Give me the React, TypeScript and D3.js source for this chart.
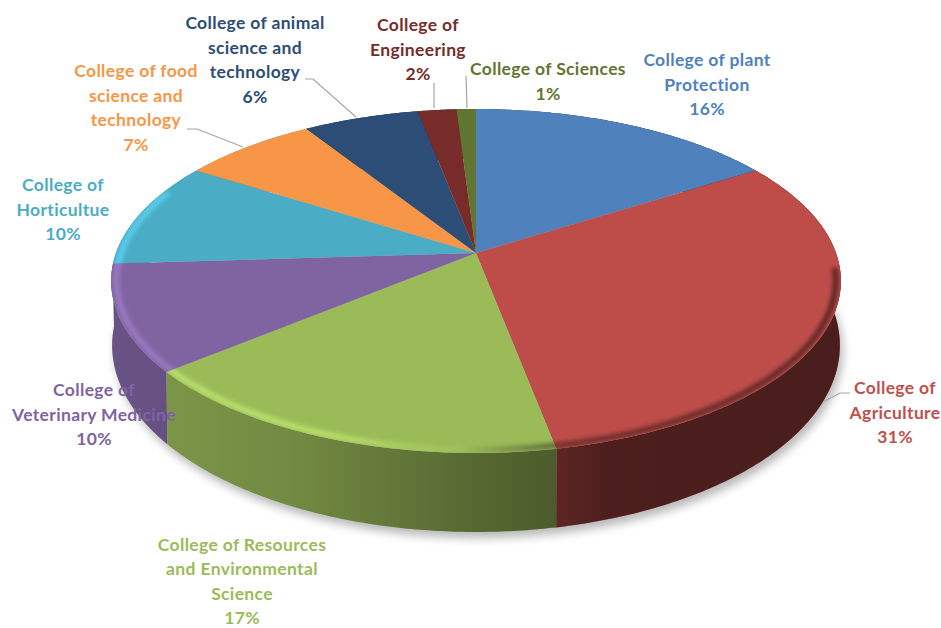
import React from "react";
import * as d3 from "d3";

// Share of each college, in percent, clockwise from twelve o'clock.
const colleges = [
  "College of plant Protection",
  "College of Agriculture",
  "College of Resources and Environmental Science",
  "College of Veterinary Medicine",
  "College of Horticultue",
  "College of food science and technology",
  "College of animal science and technology",
  "College of Engineering",
  "College of Sciences",
];
const shares = [16, 31, 17, 10, 10, 7, 6, 2, 1];
const sliceColors = ["#4F81BD", "#BE4D4A", "#9BBB59", "#8064A2", "#4BACC6", "#F79646", "#2C4D75", "#772C2A", "#5F7530"];
const labelColors = ["#4F81BD", "#C0504D", "#9BBB59", "#8064A2", "#4BACC6", "#F79646", "#2C4D75", "#772C2A", "#5F7530"];

// How each college name breaks over lines in its label.
const labelLines = [
  ["College of plant", "Protection"],
  ["College of", "Agriculture"],
  ["College of Resources", "and Environmental", "Science"],
  ["College of", "Veterinary Medicine"],
  ["College of", "Horticultue"],
  ["College of food", "science and", "technology"],
  ["College of animal", "science and", "technology"],
  ["College of", "Engineering"],
  ["College of Sciences"],
];
const labelCenterX = [707, 895, 242, 94, 63, 136, 255, 418, 548];
const labelFirstLineY = [60, 388, 544.5, 390, 185, 71, 23, 25, 69];

// Leader lines joining outlying labels to their slices.
const leaderLines: [number, number][][] = [
  [[850, 393], [840, 393], [823, 402]],
  [[434, 83], [434, 108]],
  [[466, 76], [467, 108]],
  [[305, 79], [313, 79], [356, 117]],
  [[187, 129], [197, 129], [243, 147]],
];

const WIDTH = 941;
const HEIGHT = 628;
const LINE_HEIGHT = 24.6;
const FONT = "Lato, 'Open Sans', sans-serif";

// Perspective disc: the far side is foreshortened, the near side enlarged.
type Disc = { cx: number; cy: number; a: number; b: number };
const TILT = 0.163;
const topDisc: Disc = { cx: 476, cy: 253, a: 360, b: 167.4 };
const baseDisc: Disc = { cx: 476, cy: 315, a: 359, b: 181.6 };

function project(d: Disc, angle: number, r = 1): [number, number] {
  const u = Math.sin(angle) * r;
  const v = -Math.cos(angle) * r;
  const w = 1 - TILT * v;
  return [d.cx + (d.a * u) / w, d.cy + (d.b * v) / w];
}

function arcPoints(d: Disc, a0: number, a1: number, r = 1): [number, number][] {
  const n = Math.max(2, Math.ceil(Math.abs(a1 - a0) / 0.01));
  return d3.range(n + 1).map((i) => project(d, a0 + ((a1 - a0) * i) / n, r));
}

const closed = d3.line().curve(d3.curveLinearClosed);
const open = d3.line();

const arcs = d3.pie<number>().sort(null).value((v) => v)(shares);
const degrees = (x: number) => (x * Math.PI) / 180;

// Far walls first so the near ones paint over them.
const wallOrder = arcs
  .map((a, i) => ({ i, depth: -Math.cos((a.startAngle + a.endAngle) / 2) }))
  .sort((p, q) => p.depth - q.depth)
  .map((p) => p.i);

const wedge = (a: { startAngle: number; endAngle: number }) =>
  closed([[topDisc.cx, topDisc.cy], ...arcPoints(topDisc, a.startAngle, a.endAngle)] as [number, number][])!;

const baseOutline = closed(arcPoints(baseDisc, 0, Math.PI * 2))!;
const RIM_RADIUS = 0.986;
const LIGHT_FROM = degrees(150);
const LIGHT_TO = degrees(290);
const darkRimPath = open(arcPoints(topDisc, degrees(95), degrees(215), RIM_RADIUS))!;
const silhouette = closed(arcPoints(topDisc, 0, Math.PI * 2))!;

export default function App() {
  return (
    <svg
      width={WIDTH}
      height={HEIGHT}
      viewBox={`0 0 ${WIDTH} ${HEIGHT}`}
      style={{ position: "absolute", left: 0, top: 0, display: "block", background: "#fff" }}
    >
      <defs>
        <filter id="shadowBlur" x="-10%" y="-10%" width="120%" height="120%">
          <feGaussianBlur stdDeviation="5" />
        </filter>
        <filter id="rimBlur" filterUnits="userSpaceOnUse" x="0" y="0" width={WIDTH} height={HEIGHT}>
          <feGaussianBlur stdDeviation="2" />
        </filter>
        <clipPath id="topClip">
          <path d={silhouette} />
        </clipPath>
        {arcs.map((a, i) => (
          <clipPath key={i} id={`wedge${i}`}>
            <path d={wedge(a)} />
          </clipPath>
        ))}
        {sliceColors.map((c, i) => (
          <linearGradient key={i} id={`lightRim${i}`} gradientUnits="userSpaceOnUse" x1="110" x2="840" y1="0" y2="0">
            <stop offset="0" stopColor={d3.rgb(c).brighter(0.55).formatHex()} stopOpacity="0.9" />
            <stop offset="0.3" stopColor={d3.rgb(c).brighter(0.55).formatHex()} stopOpacity="0.9" />
            <stop offset="0.5" stopColor={d3.rgb(c).brighter(0.55).formatHex()} stopOpacity="0" />
          </linearGradient>
        ))}
        <linearGradient id="wallShade" gradientUnits="userSpaceOnUse" x1="110" x2="840" y1="0" y2="0">
          {[
            [0, 0.18],
            [0.1, 0.21],
            [0.26, 0.27],
            [0.47, 0.42],
            [0.62, 0.52],
            [0.68, 0.6],
            [1, 0.62],
          ].map(([o, a]) => (
            <stop key={o} offset={o} stopColor="#000" stopOpacity={a} />
          ))}
        </linearGradient>
        <linearGradient id="darkRim" gradientUnits="userSpaceOnUse" x1="110" x2="840" y1="0" y2="0">
          <stop offset="0.48" stopColor="#000" stopOpacity="0" />
          <stop offset="0.6" stopColor="#000" stopOpacity="0.38" />
          <stop offset="1" stopColor="#000" stopOpacity="0.5" />
        </linearGradient>
      </defs>

      {/* soft shadow under the disc */}
      <path d={baseOutline} transform="translate(3 6)" fill="#000" opacity={0.28} filter="url(#shadowBlur)" />

      {/* side walls */}
      {wallOrder.map((i) => {
        const a = arcs[i];
        const d = closed([
          ...arcPoints(topDisc, a.startAngle, a.endAngle),
          ...arcPoints(baseDisc, a.endAngle, a.startAngle),
        ] as [number, number][])!;
        return (
          <g key={colleges[i]}>
            <path d={d} fill={sliceColors[i]} />
            <path d={d} fill="url(#wallShade)" />
          </g>
        );
      })}

      {/* top face */}
      {arcs.map((a, i) => (
        <path key={colleges[i]} d={wedge(a)} fill={sliceColors[i]} />
      ))}

      {/* bevel: a lit band on the left of the rim, each slice in its own tint */}
      {arcs.map((a, i) => {
        const from = Math.max(a.startAngle, LIGHT_FROM);
        const to = Math.min(a.endAngle, LIGHT_TO);
        if (from >= to) return null;
        return (
          <g key={colleges[i]} clipPath={`url(#wedge${i})`}>
            <path
              d={open(arcPoints(topDisc, from - 0.05, to + 0.05, RIM_RADIUS))!}
              fill="none"
              stroke={`url(#lightRim${i})`}
              strokeWidth={6}
              filter="url(#rimBlur)"
            />
          </g>
        );
      })}

      {/* bevel: the shaded right of the rim */}
      <g clipPath="url(#topClip)">
        <path d={darkRimPath} fill="none" stroke="url(#darkRim)" strokeWidth={6} filter="url(#rimBlur)" />
      </g>

      {leaderLines.map((pts, i) => (
        <path key={i} d={open(pts)!} fill="none" stroke="#A6A6A6" strokeWidth={1.2} />
      ))}

      {labelLines.map((lines, i) => (
        <text
          key={colleges[i]}
          textAnchor="middle"
          fontFamily={FONT}
          fontWeight={700}
          fontSize={17.5}
          letterSpacing={0.35}
          fill={labelColors[i]}
        >
          {[...lines, `${shares[i]}%`].map((line, j) => (
            <tspan key={j} x={labelCenterX[i]} y={labelFirstLineY[i] + j * LINE_HEIGHT} dy="0.35em">
              {line}
            </tspan>
          ))}
        </text>
      ))}
    </svg>
  );
}
